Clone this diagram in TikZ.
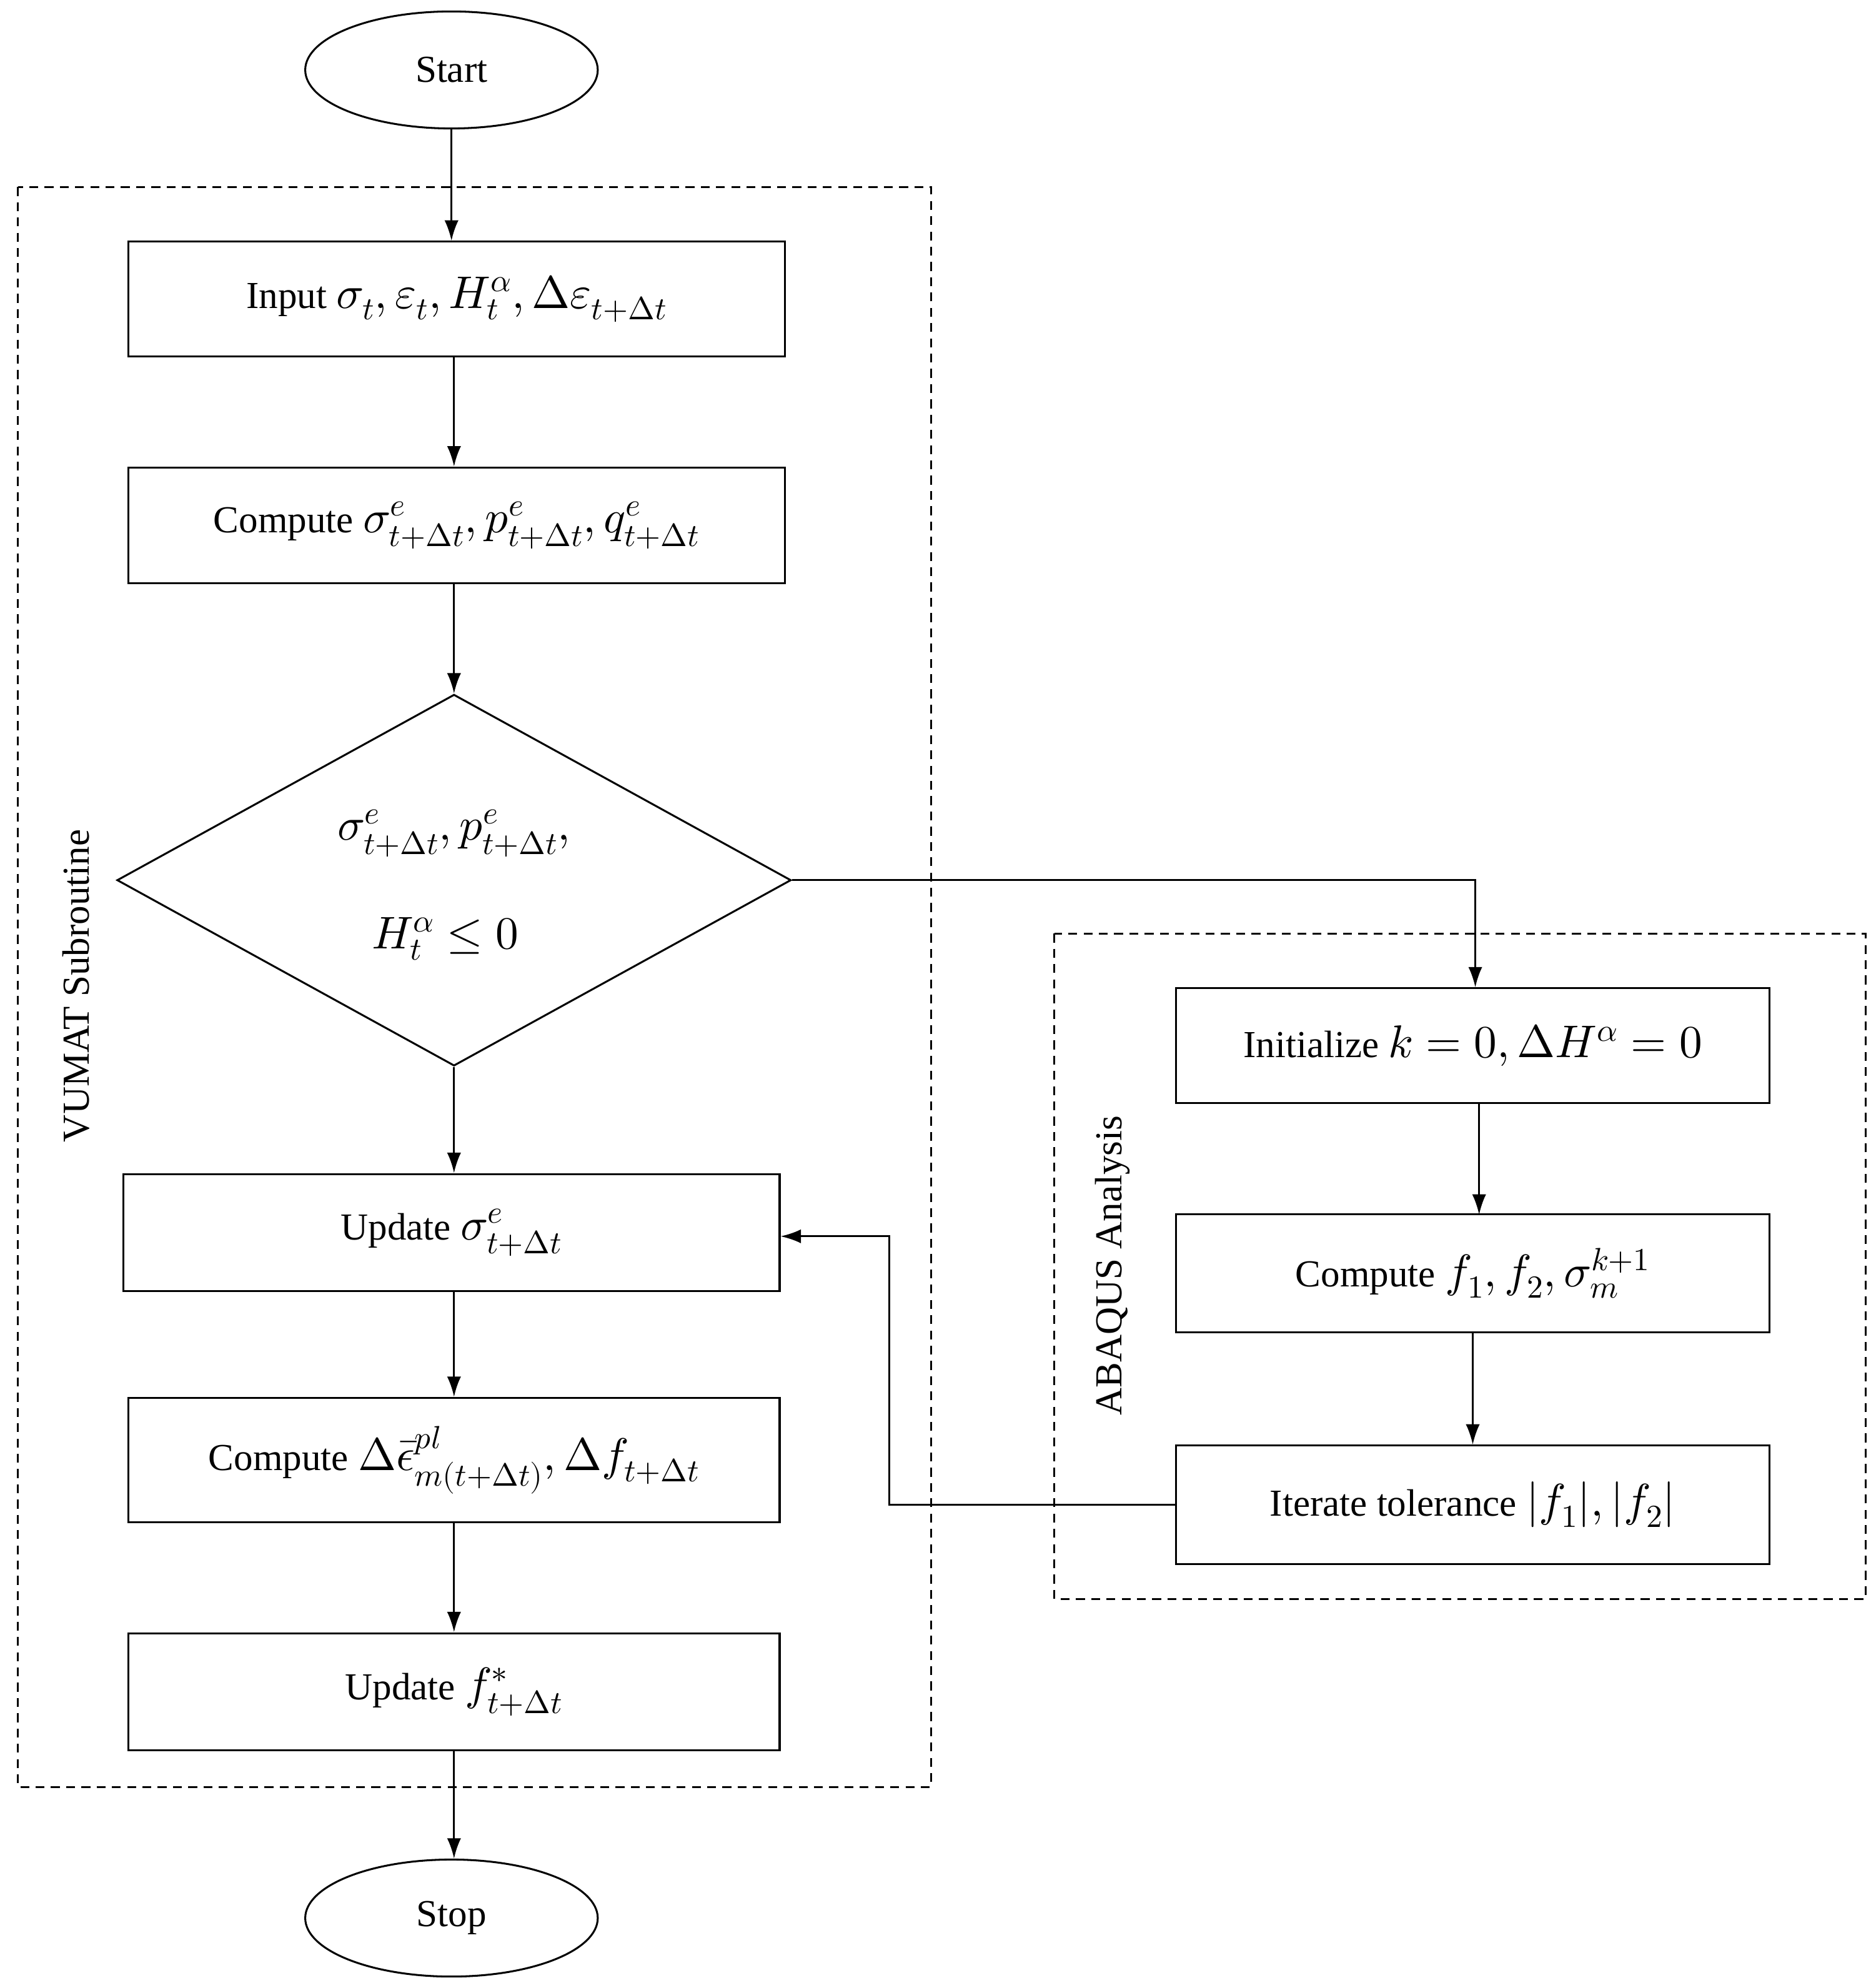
\documentclass[tikz,border=0pt]{standalone}
\usepackage{fontspec}
\usepackage{unicode-math}
\setmainfont{Liberation Serif}
\setmathfont{Latin Modern Math}
\usetikzlibrary{shapes.geometric,arrows.meta}
\newcommand{\mm}[1]{{\fontsize{36}{40}\selectfont$#1$}}
\begin{document}
\begin{tikzpicture}[x=1pt,y=-1pt,
  every node/.style={font=\fontsize{30}{36}\selectfont},
  box/.style={draw,line width=1.5pt,rectangle,inner sep=0pt},
  term/.style={draw,line width=1.5pt,ellipse,minimum width=230pt,minimum height=92pt},
  grp/.style={draw,line width=1.5pt,dash pattern=on 7pt off 5pt},
  arr/.style={line width=1.5pt,-{Latex[length=16pt,width=11pt]}}]
\useasboundingbox (0,0) rectangle (1475,1563);
\node[term] (start) at (355,55) {Start};
\node[term] (stop) at (355,1508) {Stop};
\draw[grp] (14,147) rectangle (732,1405);
\draw[grp] (829,734) rectangle (1467,1257);
\node[rotate=90] (vl) at (60,775) {VUMAT Subroutine};
\node[rotate=90] (al) at (875,995) {ABAQUS Analysis};
\node[box,minimum width=516pt,minimum height=90pt] (in) at (359,235) {Input \mm{\sigma_t,\varepsilon_t,H_t^\alpha,\Delta\varepsilon_{t+\Delta t}}};
\node[box,minimum width=516pt,minimum height=91pt] (c1) at (359,413) {Compute \mm{\sigma^e_{t+\Delta t},p^e_{t+\Delta t},q^e_{t+\Delta t}}};
\node[draw,line width=1.5pt,diamond,minimum width=530pt,minimum height=292pt,inner sep=0pt] (d) at (357,692) {};
\node (dt) at (357,655) {\mm{\sigma^e_{t+\Delta t},p^e_{t+\Delta t},}};
\node (db) at (350,738) {\mm{H^\alpha_t\le 0}};
\node[box,minimum width=516pt,minimum height=92pt] (u1) at (355,969) {Update \mm{\sigma^e_{t+\Delta t}}};
\node[box,minimum width=512pt,minimum height=98pt] (c2) at (357,1148) {Compute \mm{\Delta\bar\epsilon^{pl}_{m(t+\Delta t)},\Delta f_{t+\Delta t}}};
\node[box,minimum width=512pt,minimum height=92pt] (u2) at (357,1330) {Update \mm{f^*_{t+\Delta t}}};
\node[box,minimum width=467pt,minimum height=90pt] (i1) at (1158,822) {Initialize \mm{k=0,\Delta H^\alpha=0}};
\node[box,minimum width=467pt,minimum height=93pt] (i2) at (1158,1001) {Compute \mm{f_1,f_2,\sigma_m^{k+1}}};
\node[box,minimum width=467pt,minimum height=93pt] (i3) at (1158,1183) {Iterate tolerance \mm{|f_1|,|f_2|}};
\draw[arr] (start) -- (start|-in.north);
\draw[arr] (in.south-|d.north) -- (d.north|-c1.north);
\draw[arr] (c1.south-|d.north) -- (d.north);
\draw[arr] (d.south) -- (d.south|-u1.north);
\draw[arr] (d.south|-u1.south) -- (d.south|-c2.north);
\draw[arr] (d.south|-c2.south) -- (d.south|-u2.north);
\draw[arr] (d.south|-u2.south) -- (d.south|-stop.north);
\coordinate (k1) at (1160,692);
\draw[arr] (d.east) -- (k1) -- (k1|-i1.north);
\draw[arr] (i1.south-|1163,0) -- (1163,955);
\draw[arr] (i2) -- (i3);
\coordinate (k2) at (699,1183);
\coordinate (k3) at (699,972);
\draw[arr] (i3.west) -- (k2) -- (k3) -- (u1.east|-k3);
\end{tikzpicture}
\end{document}
